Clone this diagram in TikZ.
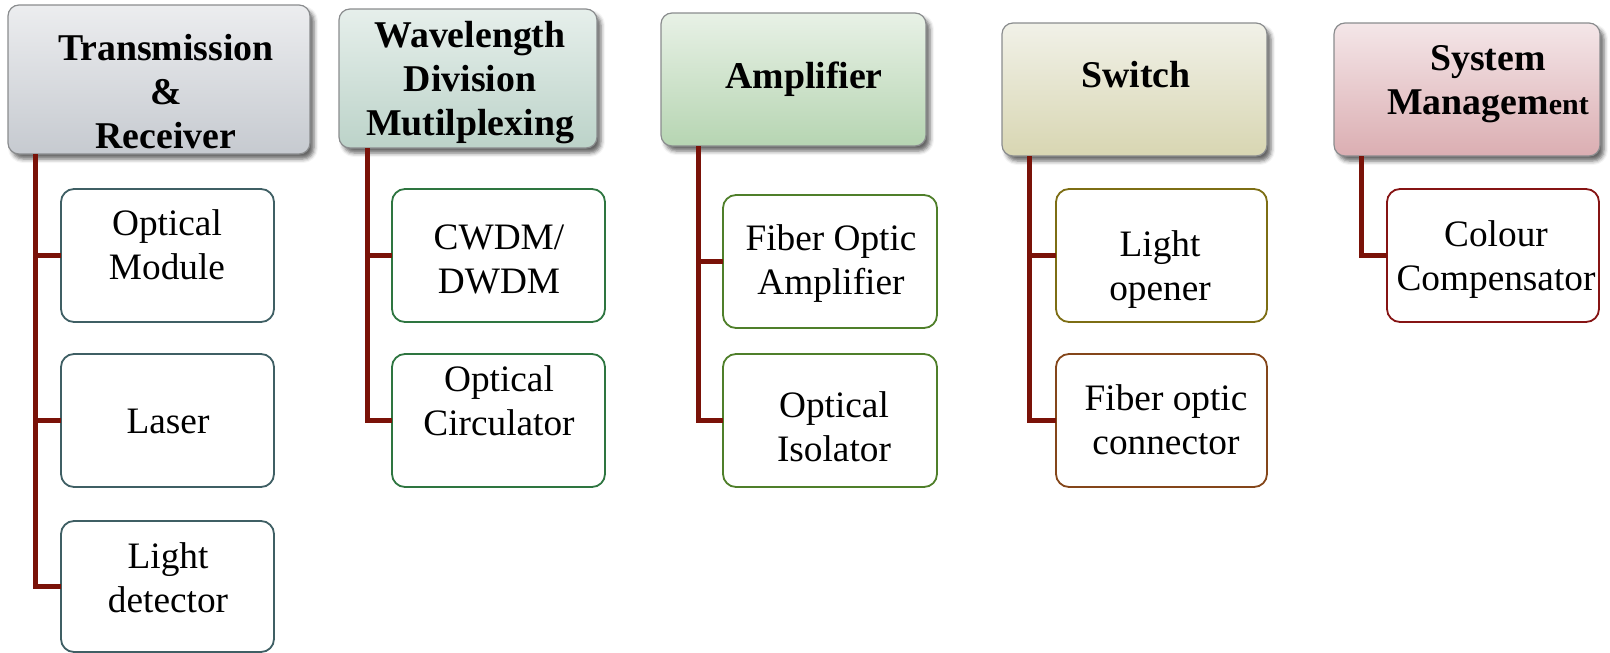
\documentclass[tikz,border=0pt]{standalone}
\usepackage{fontspec}
\setmainfont{Liberation Serif}
\usetikzlibrary{shadows.blur}
\definecolor{connc}{HTML}{7A1208}
\definecolor{hbord}{HTML}{8A8C8E}
\definecolor{aTop}{HTML}{ECEDEF}\definecolor{aBot}{HTML}{C6CAD0}
\definecolor{bTop}{HTML}{E6EFEB}\definecolor{bBot}{HTML}{BCD3C9}
\definecolor{cTop}{HTML}{E8F1E6}\definecolor{cBot}{HTML}{B6D5B2}
\definecolor{dTop}{HTML}{F1F1E8}\definecolor{dBot}{HTML}{D8D6B2}
\definecolor{eTop}{HTML}{F4E6E8}\definecolor{eBot}{HTML}{DBAEB2}
\definecolor{bordA}{HTML}{3F5F64}
\definecolor{bordB}{HTML}{2E7540}
\definecolor{bordC}{HTML}{4F7F2A}
\definecolor{bordD}{HTML}{7D6E14}
\definecolor{bordDD}{HTML}{84461A}
\definecolor{bordE}{HTML}{861414}
\begin{document}
\begin{tikzpicture}[x=1pt,y=-1pt,
  hdr/.style={draw=hbord, line width=1.2pt, rounded corners=11pt, inner sep=0pt, outer sep=0pt,
    minimum height=133pt,
    blur shadow={shadow xshift=4pt, shadow yshift=-5pt, shadow blur radius=4pt, shadow opacity=60}},
  kid/.style={draw, fill=white, line width=1.8pt, rounded corners=13pt, inner sep=0pt, outer sep=0pt,
    minimum width=213pt, minimum height=133pt},
  htxt/.style={align=center, inner sep=0pt, font=\fontsize{37.8}{44}\selectfont\bfseries},
  ktxt/.style={align=center, inner sep=0pt, font=\fontsize{37.3}{44}\selectfont},
  conn/.style={draw=connc, line width=5pt, line join=miter}]
\useasboundingbox (0,0) rectangle (1610,653);
% headers
\node[hdr, top color=aTop, bottom color=aBot, minimum width=302pt, minimum height=149pt] (h1) at (159,79.5) {};
\node[hdr, top color=bTop, bottom color=bBot, minimum width=258pt, minimum height=139pt] (h2) at (468,78.5) {};
\node[hdr, top color=cTop, bottom color=cBot, minimum width=265pt] (h3) at (793.5,79.5) {};
\node[hdr, top color=dTop, bottom color=dBot, minimum width=265pt] (h4) at (1134.5,89.5) {};
\node[hdr, top color=eTop, bottom color=eBot, minimum width=266pt] (h5) at (1467,89.5) {};
\node[htxt] (h1t) at (166,91.5) {Transmission\\\&\\Receiver};
\node[htxt] (h2t) at (470,82.5) {Wavelength\\Division\\Mutilplexing};
\node[htxt] (h3t) at (804,79) {Amplifier};
\node[htxt] (h4t) at (1136,75) {Switch};
\node[htxt] (h5t) at (1488,84) {System\\Managem{\fontsize{30}{44}\selectfont ent}};
% children
\node[kid, draw=bordA] (c11) at (167.5,255.5) {};
\node[kid, draw=bordA] (c12) at (167.5,420.5) {};
\node[kid, draw=bordA, minimum height=131pt] (c13) at (167.5,586.5) {};
\node[kid, draw=bordB] (c21) at (498.5,255.5) {};
\node[kid, draw=bordB] (c22) at (498.5,420.5) {};
\node[kid, draw=bordC, minimum width=214pt] (c31) at (830,261.5) {};
\node[kid, draw=bordC, minimum width=214pt] (c32) at (830,420.5) {};
\node[kid, draw=bordD, minimum width=211pt] (c41) at (1161.5,255.5) {};
\node[kid, draw=bordDD, minimum width=211pt] (c42) at (1161.5,420.5) {};
\node[kid, draw=bordE, minimum width=212pt] (c51) at (1493,255.5) {};
% child texts
\node[ktxt] (c11t) at (167,245) {Optical\\Module};
\node[ktxt] (c12t) at (168,421) {Laser};
\node[ktxt] (c13t) at (168,578) {Light\\detector};
\node[ktxt] (c21t) at (499,259) {CWDM/\\DWDM};
\node[ktxt] (c22t) at (499,401) {Optical\\Circulator};
\node[ktxt] (c31t) at (831,263.5) {Fiber Optic\\Amplifier};
\node[ktxt] (c32t) at (834,427) {Optical\\Isolator};
\node[ktxt] (c41t) at (1160,270) {Light\\opener};
\node[ktxt] (c42t) at (1166,420) {Fiber optic\\connector};
\node[ktxt] (c51t) at (1496,260) {Colour\\Compensator};
% connectors
\draw[conn] ([xshift=27pt]h1.south west) |- (c13.west);
\draw[conn] ([xshift=27pt]h1.south west) |- (c11.west);
\draw[conn] ([xshift=27pt]h1.south west) |- (c12.west);
\draw[conn] ([xshift=28pt]h2.south west) |- (c22.west);
\draw[conn] ([xshift=28pt]h2.south west) |- (c21.west);
\draw[conn] ([xshift=37pt]h3.south west) |- (c32.west);
\draw[conn] ([xshift=37pt]h3.south west) |- (c31.west);
\draw[conn] ([xshift=27pt]h4.south west) |- (c42.west);
\draw[conn] ([xshift=27pt]h4.south west) |- (c41.west);
\draw[conn] ([xshift=27pt]h5.south west) |- (c51.west);
\end{tikzpicture}
\end{document}
